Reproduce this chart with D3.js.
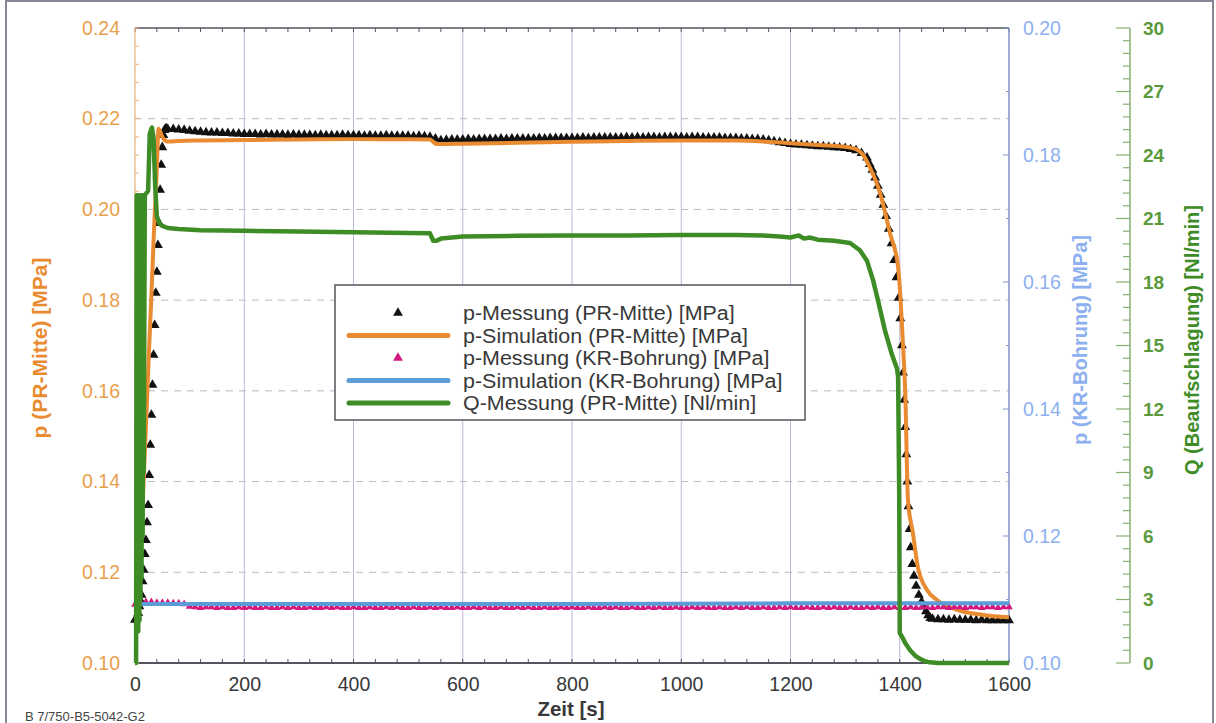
<!DOCTYPE html>
<html>
<head>
<meta charset="utf-8">
<script src="https://cdn.jsdelivr.net/npm/d3@7"></script>
<style>
  body { margin: 0; background: #fff; }
  svg { display: block; font-family: "Liberation Sans", Arial, Helvetica, sans-serif; }
</style>
</head>
<body>
<svg id="chart" width="1216" height="723"></svg>
<script>
// ---------- data ----------
// p-Messung (PR-Mitte) [MPa]: measured pressure, centre of the test piece
const prMessTime = [
  0, 2, 4, 6, 8, 10, 12, 14, 16, 18, 20, 22, 24, 26, 28, 30, 32, 34, 36, 38, 40, 42, 44, 46, 48, 50, 52, 54, 56, 58, 60,
  70, 80, 90, 100, 110, 120, 130, 140, 150, 160, 170, 180, 190, 200, 210, 220, 230, 240, 250, 260, 270, 280, 290, 300,
  310, 320, 330, 340, 350, 360, 370, 380, 390, 400, 410, 420, 430, 440, 450, 460, 470, 480, 490, 500, 510, 520, 530, 540,
  550, 560, 570, 580, 590, 600, 610, 620, 630, 640, 650, 660, 670, 680, 690, 700, 710, 720, 730, 740, 750, 760, 770, 780,
  790, 800, 810, 820, 830, 840, 850, 860, 870, 880, 890, 900, 910, 920, 930, 940, 950, 960, 970, 980, 990, 1000, 1010,
  1020, 1030, 1040, 1050, 1060, 1070, 1080, 1090, 1100, 1110, 1120, 1130, 1140, 1150, 1160, 1170, 1180, 1190, 1200,
  1210, 1220, 1230, 1240, 1250, 1260, 1270, 1280, 1290, 1300, 1310, 1320, 1330, 1340,
  1345, 1350, 1355, 1360, 1365, 1370, 1375, 1380, 1385, 1390, 1394, 1398, 1401, 1404, 1406, 1408, 1410, 1412, 1414,
  1416, 1418, 1420, 1423, 1426, 1430, 1435, 1440, 1444, 1448, 1452, 1456, 1460, 1470, 1480, 1490, 1500, 1510, 1520,
  1530, 1540, 1550, 1560, 1570, 1580, 1590, 1600
];
const prMessValue = [
  0.1095, 0.1098, 0.1102, 0.1110, 0.1125, 0.1138, 0.1150, 0.1180, 0.1205, 0.1240, 0.1271, 0.1310, 0.1348, 0.1414,
  0.1481, 0.1547, 0.1613, 0.1679, 0.1745, 0.1816, 0.1862, 0.1921, 0.1970, 0.2043, 0.2098, 0.2137, 0.2164, 0.2175,
  0.2178, 0.2178, 0.2177,
  0.2177, 0.2176, 0.2175, 0.2173, 0.2172, 0.2171, 0.2170, 0.2169, 0.2169, 0.2168, 0.2168, 0.2167, 0.2167, 0.2166,
  0.2166, 0.2166, 0.2165, 0.2166, 0.2165, 0.2165, 0.2165, 0.2164, 0.2165, 0.2164, 0.2164, 0.2164, 0.2163, 0.2164,
  0.2163, 0.2163, 0.2163, 0.2164, 0.2163, 0.2163, 0.2163, 0.2162, 0.2163, 0.2162, 0.2162, 0.2163, 0.2162, 0.2162,
  0.2162, 0.2162, 0.2161, 0.2162, 0.2161, 0.2160,
  0.2156, 0.2152, 0.2153, 0.2154, 0.2154, 0.2154, 0.2155, 0.2154, 0.2155, 0.2155, 0.2155, 0.2155, 0.2156, 0.2155,
  0.2156, 0.2156, 0.2156, 0.2156, 0.2156, 0.2157, 0.2156, 0.2157, 0.2157, 0.2157, 0.2157, 0.2157, 0.2157, 0.2158,
  0.2157, 0.2158, 0.2158, 0.2158, 0.2158, 0.2158, 0.2158, 0.2159, 0.2158, 0.2159, 0.2158, 0.2159, 0.2159, 0.2158,
  0.2159, 0.2159, 0.2159, 0.2159, 0.2158, 0.2159, 0.2159, 0.2158, 0.2158, 0.2158, 0.2158, 0.2157, 0.2157, 0.2157,
  0.2156, 0.2156, 0.2155, 0.2155, 0.2154, 0.2152, 0.2150, 0.2148, 0.2146, 0.2144,
  0.2143, 0.2142, 0.2141, 0.2140, 0.2139, 0.2139, 0.2138, 0.2137, 0.2136, 0.2135, 0.2133, 0.2130, 0.2124, 0.2114,
  0.2100, 0.2087, 0.2070, 0.2052, 0.2032, 0.2010, 0.1985, 0.1957, 0.1925, 0.1888, 0.1850, 0.1805, 0.1760, 0.1700,
  0.1640, 0.1580, 0.1520, 0.1460, 0.1400, 0.1345, 0.1295, 0.1255, 0.1218, 0.1192, 0.1170, 0.1150, 0.1135, 0.1124,
  0.1114, 0.1105, 0.1099, 0.1097, 0.1096, 0.1096, 0.1095, 0.1096, 0.1095, 0.1095, 0.1095, 0.1094, 0.1095, 0.1094,
  0.1094, 0.1094, 0.1094, 0.1094
];

// p-Simulation (PR-Mitte) [MPa]
const prSimTime = [
  0, 3, 6, 10, 15, 20, 25, 30, 35, 40, 43, 46, 50, 55, 60, 80, 120, 200, 300, 400, 500, 540, 545, 550, 560, 600,
  700, 800, 900, 1000, 1100, 1150, 1200, 1250, 1300, 1320, 1333, 1345, 1364, 1382, 1397, 1400, 1406, 1410, 1415,
  1424, 1433, 1450, 1468, 1505, 1552, 1600
];
const prSimValue = [
  0.1100, 0.1110, 0.1150, 0.1250, 0.1380, 0.1520, 0.1670, 0.1810, 0.1960, 0.2090, 0.2178, 0.2172, 0.2160, 0.2152,
  0.2150, 0.2151, 0.2152, 0.2153, 0.2154, 0.2155, 0.2155, 0.2154, 0.2150, 0.2145, 0.2144, 0.2145, 0.2147, 0.2149,
  0.2151, 0.2152, 0.2152, 0.2150, 0.2146, 0.2142, 0.2138, 0.2133, 0.2120, 0.2093, 0.2036, 0.1948, 0.1873, 0.1829,
  0.1700, 0.1600, 0.1359, 0.1287, 0.1212, 0.1161, 0.1139, 0.1117, 0.1106, 0.1101
];

// p-Messung (KR-Bohrung) [MPa]: logged every 10 s from t = 0
const krMessStep = 10;
const krMessValue = [
  0.1092, 0.1095, 0.1096, 0.1096, 0.1095, 0.1095, 0.1095, 0.1094, 0.1094, 0.1093, 0.1089,
  0.1088, 0.1087, 0.1088, 0.1088, 0.1087, 0.1088, 0.1087, 0.1087, 0.1088, 0.1087,
  0.1088, 0.1087, 0.1087, 0.1088, 0.1087, 0.1087, 0.1088, 0.1087, 0.1088, 0.1087,
  0.1087, 0.1088, 0.1087, 0.1087, 0.1088, 0.1087, 0.1088, 0.1087, 0.1087, 0.1088,
  0.1087, 0.1087, 0.1088, 0.1087, 0.1087, 0.1088, 0.1087, 0.1088, 0.1087, 0.1087,
  0.1088, 0.1087, 0.1087, 0.1088, 0.1087, 0.1088, 0.1087, 0.1087, 0.1088, 0.1087,
  0.1087, 0.1088, 0.1087, 0.1088, 0.1087, 0.1087, 0.1088, 0.1087, 0.1087, 0.1088,
  0.1087, 0.1088, 0.1087, 0.1087, 0.1088, 0.1087, 0.1087, 0.1088, 0.1087, 0.1088,
  0.1087, 0.1087, 0.1088, 0.1087, 0.1087, 0.1088, 0.1087, 0.1088, 0.1087, 0.1087,
  0.1088, 0.1087, 0.1087, 0.1088, 0.1087, 0.1088, 0.1087, 0.1087, 0.1088, 0.1087,
  0.1087, 0.1088, 0.1087, 0.1088, 0.1087, 0.1087, 0.1088, 0.1087, 0.1087, 0.1088,
  0.1087, 0.1088, 0.1087, 0.1087, 0.1088, 0.1087, 0.1087, 0.1088, 0.1087, 0.1088,
  0.1087, 0.1087, 0.1088, 0.1087, 0.1087, 0.1088, 0.1087, 0.1088, 0.1087, 0.1087,
  0.1088, 0.1087, 0.1087, 0.1088, 0.1087, 0.1088, 0.1087, 0.1087, 0.1088, 0.1087,
  0.1087, 0.1088, 0.1087, 0.1088, 0.1088, 0.1087, 0.1088, 0.1088, 0.1087, 0.1088,
  0.1088, 0.1087, 0.1088, 0.1088, 0.1087, 0.1088, 0.1088, 0.1087, 0.1088, 0.1088
];

// p-Simulation (KR-Bohrung) [MPa]
const krSimTime = [0, 100, 400, 800, 1200, 1600];
const krSimValue = [0.1093, 0.1093, 0.1093, 0.1093, 0.1094, 0.1094];

// Q-Messung (PR-Mitte) [Nl/min]; the flow controller pulses during the first seconds
const qTime = [
  0, 2, 3, 5, 6, 7, 8, 9, 10, 11, 12, 13, 14, 15, 16, 18, 24, 27, 31, 34, 37, 40, 45, 50, 60, 80, 120, 200, 300, 400,
  500, 540, 546, 552, 560, 580, 600, 700, 800, 900, 1000, 1100, 1150, 1180, 1200, 1215, 1225, 1235, 1250, 1280, 1309,
  1327, 1340, 1351, 1360, 1373, 1386, 1395, 1397, 1399, 1400, 1405, 1410, 1419, 1428, 1437, 1446, 1455, 1470, 1600
];
const qValue = [
  0, 0, 22.1, 22.1, 1.5, 22.0, 2.0, 22.1, 3.0, 22.1, 4.0, 22.0, 6.0, 22.1, 9.0, 22.1, 22.3, 25.0, 25.3, 24.8,
  22.5, 21.1, 20.75, 20.65, 20.55, 20.5, 20.45, 20.42, 20.38, 20.35, 20.32, 20.3, 19.95, 19.95, 20.05, 20.1, 20.15,
  20.18, 20.2, 20.2, 20.22, 20.22, 20.2, 20.15, 20.1, 20.2, 20.05, 20.1, 20.0, 19.95, 19.84, 19.5, 19.0, 18.1,
  17.15, 15.7, 14.55, 13.9, 13.5, 8.0, 1.42, 1.2, 0.95, 0.6, 0.35, 0.2, 0.08, 0.03, 0, 0
];

// axis ticks
const timeTicks = [0, 200, 400, 600, 800, 1000, 1200, 1400, 1600];
const prTicks = [0.10, 0.12, 0.14, 0.16, 0.18, 0.20, 0.22, 0.24];
const krTicks = [0.10, 0.12, 0.14, 0.16, 0.18, 0.20];
const qTicks = [0, 3, 6, 9, 12, 15, 18, 21, 24, 27, 30];

const legendLabels = [
  "p-Messung (PR-Mitte) [MPa]",
  "p-Simulation (PR-Mitte) [MPa]",
  "p-Messung (KR-Bohrung) [MPa]",
  "p-Simulation (KR-Bohrung) [MPa]",
  "Q-Messung (PR-Mitte) [Nl/min]"
];

// ---------- styles ----------
const C = {
  orange: "#e98b30",
  orangeText: "#e9a04c",
  blue: "#5b9bd6",
  blueText: "#8db0f0",
  green: "#3e8c26",
  greenText: "#5a9a3c",
  pink: "#d3197f",
  black: "#111111",
  axis: "#555560",
  text: "#383838"
};
const FONT = '"Liberation Sans", Arial, sans-serif';

const svg = d3.select("#chart");
const L = 135, R = 1009, T = 28, B = 663;

const x = d3.scaleLinear().domain([0, 1600]).range([L, R]);
const yPR = d3.scaleLinear().domain([0.10, 0.24]).range([B, T]);
const yKR = d3.scaleLinear().domain([0.10, 0.20]).range([B, T]);
const yQ = d3.scaleLinear().domain([0, 30]).range([B, T]);

// outer frame
svg.append("line").attr("x1", 6).attr("x2", 6).attr("y1", 0).attr("y2", 723)
  .attr("stroke", "#8a8696").attr("stroke-width", 2);
svg.append("line").attr("x1", 6).attr("x2", 1213).attr("y1", 1).attr("y2", 1)
  .attr("stroke", "#8a8696").attr("stroke-width", 2);
svg.append("line").attr("x1", 1213).attr("x2", 1213).attr("y1", 0).attr("y2", 723)
  .attr("stroke", "#8a8696").attr("stroke-width", 2);

// grid
const grid = svg.append("g");
grid.selectAll("line.v").data(timeTicks.slice(1, -1)).join("line")
  .attr("x1", d => x(d)).attr("x2", d => x(d)).attr("y1", T).attr("y2", B)
  .attr("stroke", "#bdb6d6").attr("stroke-width", 1);
grid.selectAll("line.h").data(prTicks.slice(1, -1)).join("line")
  .attr("x1", L).attr("x2", R).attr("y1", d => yPR(d)).attr("y2", d => yPR(d))
  .attr("stroke", "#b8b8c2").attr("stroke-width", 1).attr("stroke-dasharray", "7,6");

// bottom axis
const xMinor = d3.range(0, 1601, 40);
const xAxis = d3.axisBottom(x).tickValues(timeTicks).tickSize(0).tickPadding(14).tickFormat(d3.format("d"));
const gx = svg.append("g").attr("transform", `translate(0,${B})`).call(xAxis);
gx.select(".domain").remove();
gx.selectAll("text").attr("font-size", 19.5).attr("fill", C.text).attr("font-family", FONT);
svg.append("g").selectAll("line").data(xMinor).join("line")
  .attr("x1", d => x(d)).attr("x2", d => x(d)).attr("y1", B).attr("y2", B - 4)
  .attr("stroke", C.axis).attr("stroke-width", 1);
svg.append("g").selectAll("line").data(xMinor).join("line")
  .attr("x1", d => x(d)).attr("x2", d => x(d)).attr("y1", T).attr("y2", T + 4)
  .attr("stroke", C.axis).attr("stroke-width", 1);
svg.append("line").attr("x1", L).attr("x2", R).attr("y1", B).attr("y2", B)
  .attr("stroke", C.axis).attr("stroke-width", 2);
svg.append("line").attr("x1", L).attr("x2", R).attr("y1", T).attr("y2", T)
  .attr("stroke", C.axis).attr("stroke-width", 1.5);

svg.append("text").attr("x", x(800) - 1).attr("y", 716).attr("text-anchor", "middle")
  .attr("font-size", 20.5).attr("font-weight", "bold").attr("fill", C.text).text("Zeit [s]");

// left axis (PR-Mitte)
const prMinor = d3.range(0, 36).map(i => 0.10 + i * 0.004);
svg.append("g").selectAll("line").data(prMinor).join("line")
  .attr("x1", L).attr("x2", L + 4).attr("y1", d => yPR(d)).attr("y2", d => yPR(d))
  .attr("stroke", "#eab27c").attr("stroke-width", 1);
svg.append("line").attr("x1", L).attr("x2", L).attr("y1", T).attr("y2", B)
  .attr("stroke", "#eab27c").attr("stroke-width", 1.2);
const yAxisL = d3.axisLeft(yPR).tickValues(prTicks).tickSize(0).tickPadding(15).tickFormat(d3.format(".2f"));
const gl = svg.append("g").attr("transform", `translate(${L},0)`).call(yAxisL);
gl.select(".domain").remove();
gl.selectAll("text").attr("font-size", 19.5).attr("fill", C.orangeText).attr("font-family", FONT);
svg.append("text").attr("transform", "translate(47,348) rotate(-90)").attr("text-anchor", "middle")
  .attr("font-size", 21).attr("font-weight", "bold").attr("fill", C.orange).text("p (PR-Mitte) [MPa]");

// right axis (KR-Bohrung)
svg.append("line").attr("x1", R).attr("x2", R).attr("y1", T).attr("y2", B)
  .attr("stroke", "#8294c8").attr("stroke-width", 1.5);
svg.append("g").selectAll("line").data(d3.range(0, 11).map(i => 0.10 + i * 0.01)).join("line")
  .attr("x1", R).attr("x2", (d, i) => R - (i % 2 === 0 ? 6 : 3)).attr("y1", d => yKR(d)).attr("y2", d => yKR(d))
  .attr("stroke", "#8294c8").attr("stroke-width", 1);
const yAxisKR = d3.axisRight(yKR).tickValues(krTicks).tickSize(0).tickPadding(14).tickFormat(d3.format(".2f"));
const gk = svg.append("g").attr("transform", `translate(${R},0)`).call(yAxisKR);
gk.select(".domain").remove();
gk.selectAll("text").attr("font-size", 19.5).attr("fill", C.blueText).attr("font-family", FONT);
svg.append("text").attr("transform", "translate(1087,340) rotate(-90)").attr("text-anchor", "middle")
  .attr("font-size", 20).attr("font-weight", "bold").attr("fill", C.blueText).text("p (KR-Bohrung) [MPa]");

// right axis (Q)
const QX = 1130;
svg.append("line").attr("x1", QX).attr("x2", QX).attr("y1", T).attr("y2", B)
  .attr("stroke", "#86b070").attr("stroke-width", 1.5);
svg.append("g").selectAll("line").data(d3.range(0, 51).map(i => i * 0.6)).join("line")
  .attr("x1", QX).attr("x2", (d, i) => QX - (i % 5 === 0 ? 14 : 7))
  .attr("y1", d => yQ(d)).attr("y2", d => yQ(d))
  .attr("stroke", "#86b070").attr("stroke-width", 1.2);
const yAxisQ = d3.axisRight(yQ).tickValues(qTicks).tickSize(0).tickPadding(13).tickFormat(d3.format("d"));
const gq = svg.append("g").attr("transform", `translate(${QX},0)`).call(yAxisQ);
gq.select(".domain").remove();
gq.selectAll("text").attr("font-size", 19).attr("font-weight", "bold").attr("fill", C.greenText)
  .attr("font-family", FONT);
svg.append("text").attr("transform", "translate(1199,340) rotate(-90)").attr("text-anchor", "middle")
  .attr("font-size", 20).attr("font-weight", "bold").attr("fill", C.green).text("Q (Beaufschlagung) [Nl/min]");

// ---------- series ----------
const tri = d3.symbol().type(d3.symbolTriangle).size(42);
const triSmall = d3.symbol().type(d3.symbolTriangle).size(26);

const prMess = prMessTime.map((t, i) => [t, prMessValue[i]]);
const prSim = prSimTime.map((t, i) => [t, prSimValue[i]]);
const krMess = krMessValue.map((v, i) => [i * krMessStep, v]);
const krSim = krSimTime.map((t, i) => [t, krSimValue[i]]);
const qMess = qTime.map((t, i) => [t, qValue[i]]);

const series = svg.append("g");

series.append("g").selectAll("path").data(prMess).join("path")
  .attr("d", tri).attr("transform", d => `translate(${x(d[0])},${yPR(d[1])})`).attr("fill", C.black);

series.append("path").datum(prSim)
  .attr("d", d3.line().x(d => x(d[0])).y(d => yPR(d[1])).curve(d3.curveMonotoneX))
  .attr("fill", "none").attr("stroke", C.orange).attr("stroke-width", 4).attr("stroke-linejoin", "round");

series.append("g").selectAll("path").data(krMess).join("path")
  .attr("d", triSmall).attr("transform", d => `translate(${x(d[0])},${yKR(d[1])})`).attr("fill", C.pink);

series.append("path").datum(krSim)
  .attr("d", d3.line().x(d => x(d[0])).y(d => yKR(d[1])))
  .attr("fill", "none").attr("stroke", C.blue).attr("stroke-width", 4);

series.append("path").datum(qMess)
  .attr("d", d3.line().x(d => x(d[0])).y(d => yQ(d[1])))
  .attr("fill", "none").attr("stroke", C.green).attr("stroke-width", 4.5).attr("stroke-linejoin", "round");

// ---------- legend ----------
const lg = svg.append("g");
lg.append("rect").attr("x", 335).attr("y", 285).attr("width", 470).attr("height", 135)
  .attr("fill", "#fff").attr("stroke", "#56545e").attr("stroke-width", 1.5);
const rowY = [313, 335.5, 358, 380.5, 403];
const kinds = [
  { type: "tri", color: C.black },
  { type: "line", color: C.orange },
  { type: "tri", color: C.pink },
  { type: "line", color: C.blue },
  { type: "line", color: C.green }
];
kinds.forEach((k, i) => {
  if (k.type === "tri") {
    lg.append("path").attr("d", tri).attr("transform", `translate(398,${rowY[i]})`).attr("fill", k.color);
  } else {
    lg.append("line").attr("x1", 349).attr("x2", 448).attr("y1", rowY[i]).attr("y2", rowY[i])
      .attr("stroke", k.color).attr("stroke-width", 5).attr("stroke-linecap", "round");
  }
  // compact rows: 19.5px type, stretched a little to keep the wide legend lettering
  const label = lg.append("text").attr("x", 463).attr("y", rowY[i]).attr("dy", "0.36em")
    .attr("font-size", 19.5).attr("fill", C.text).text(legendLabels[i]);
  const w = label.node().getComputedTextLength();
  label.attr("textLength", w * 1.1).attr("lengthAdjust", "spacingAndGlyphs");
});

// figure id
svg.append("text").attr("x", 25).attr("y", 721).attr("font-size", 13).attr("fill", "#444")
  .text("B 7/750-B5-5042-G2");
</script>
</body>
</html>
